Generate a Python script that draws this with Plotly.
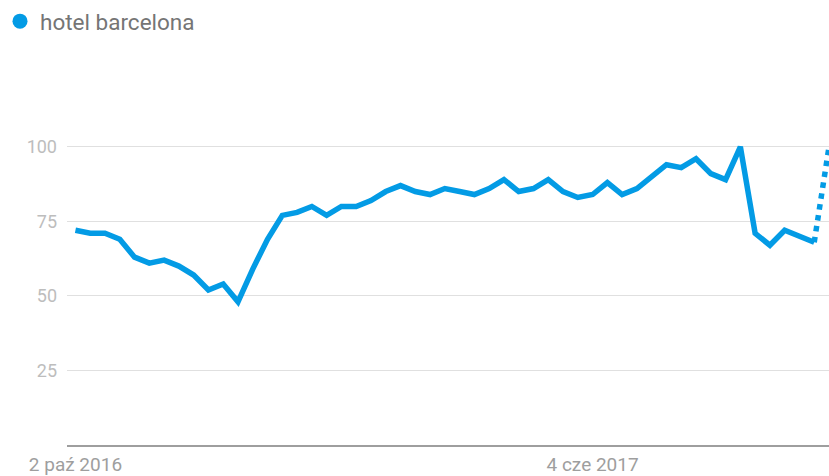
import pandas as pd
import plotly.graph_objects as go

# Weekly interest for "hotel barcelona" (index 0-100), weeks starting 2 Oct 2016
start_week = "2016-10-02"
interest = [72, 71, 71, 69, 63, 61, 62, 60, 57, 52, 54, 48, 59, 69, 77, 78,
            80, 77, 80, 80, 82, 85, 87, 85, 84, 86, 85, 84, 86, 89, 85, 86,
            89, 85, 83, 84, 88, 84, 86, 90, 94, 93, 96, 91, 89, 100, 71, 67,
            72, 70, 68, 100]
series_name = "hotel barcelona"
x_tick_dates = ["2016-10-02", "2017-06-04"]
x_tick_text = ["2 paź 2016", "4 cze 2017"]
y_ticks = [25, 50, 75, 100]

weeks = pd.date_range(start_week, periods=len(interest), freq="7D")
blue = "#039be5"

fig = go.Figure()
# complete weeks: solid line
fig.add_trace(go.Scatter(
    x=weeks[:-1], y=interest[:-1], mode="lines",
    line=dict(color=blue, width=5.5), showlegend=False, hoverinfo="skip"))
# last, partial week: dotted segment
fig.add_trace(go.Scatter(
    x=weeks[-2:], y=interest[-2:], mode="lines",
    line=dict(color=blue, width=5.5, dash="dot"), showlegend=False,
    hoverinfo="skip"))
# legend entry (round marker)
fig.add_trace(go.Scatter(
    x=[None], y=[None], mode="markers", name=series_name,
    marker=dict(color=blue, size=15, symbol="circle")))

x_start = weeks[0] - pd.Timedelta(days=4)
x_end = weeks[-1]

fig.update_layout(
    width=829, height=476,
    margin=dict(l=67, r=0, t=117, b=31, autoexpand=False),
    paper_bgcolor="white", plot_bgcolor="white",
    font=dict(family="Roboto", size=18, color="#9e9e9e"),
    showlegend=True,
    legend=dict(x=0, y=1, xref="container", yref="container",
                xanchor="left", yanchor="top",
                font=dict(family="Roboto", size=22.5, color="#757575"),
                itemwidth=30, bgcolor="rgba(0,0,0,0)"),
    xaxis=dict(
        type="date", range=[x_start, x_end],
        tickmode="array", tickvals=x_tick_dates, ticktext=x_tick_text,
        showgrid=False, zeroline=False,
        showline=True, linecolor="#9e9e9e", linewidth=2,
        ticks="", ticklabelstandoff=1,
        tickfont=dict(family="Roboto", size=19, color="#9e9e9e")),
    yaxis=dict(
        range=[0, 110], tickmode="array", tickvals=y_ticks,
        showgrid=True, gridcolor="#e0e0e0", gridwidth=1,
        zeroline=False, showline=False, ticks="",
        ticklabelstandoff=9,
        tickfont=dict(family="Roboto", size=18, color="#bdbdbd")),
)

fig.write_html("out.html")
